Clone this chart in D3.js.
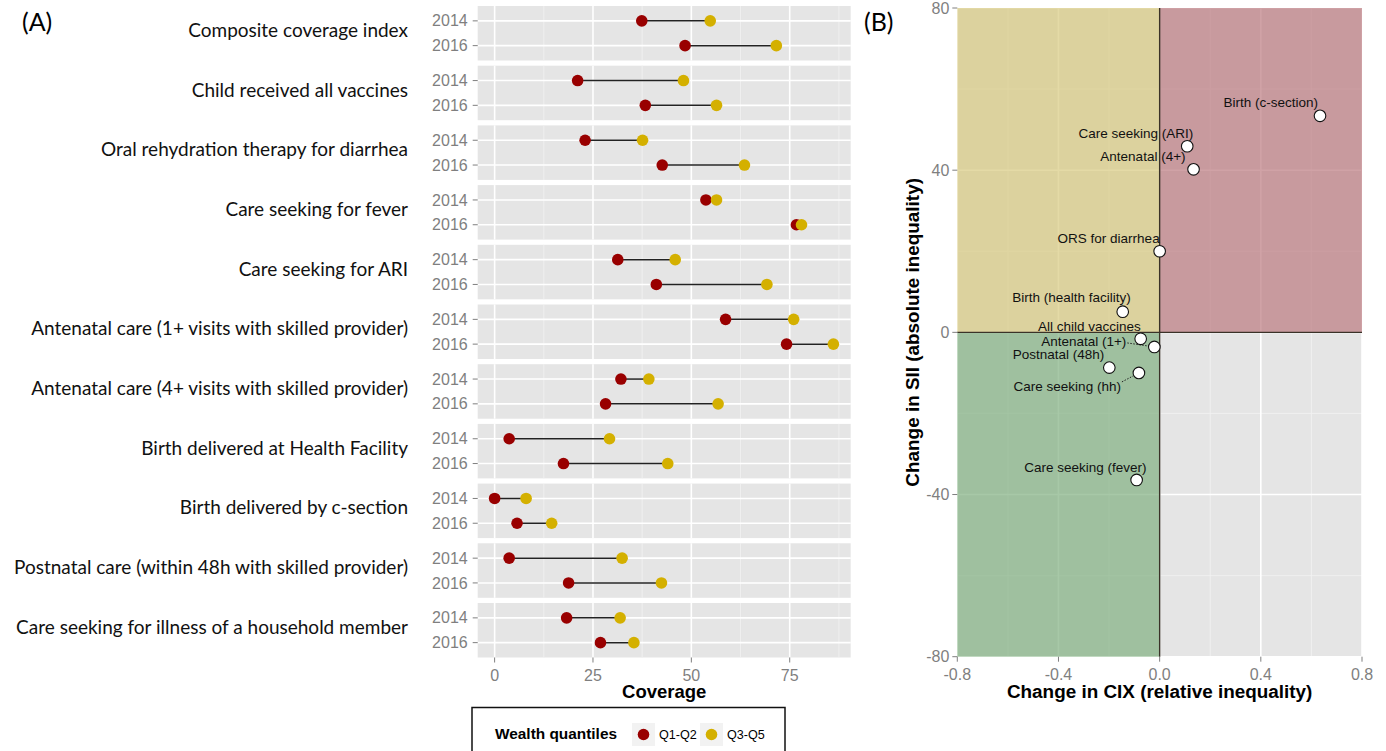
<!DOCTYPE html>
<html>
<head>
<meta charset="utf-8">
<script src="https://cdn.jsdelivr.net/npm/d3@7"></script>
<style>
  body { margin: 0; background: #fff; }
  svg { display: block; font-family: "Liberation Sans", Arial, sans-serif; }
  .cal { font-family: Lato, "Open Sans", sans-serif; }
</style>
</head>
<body>
<div id="chart"></div>
<script>
const width = 1386;
const height = 751;

// panel A data
const indicators = [
  "Composite coverage index",
  "Child received all vaccines",
  "Oral rehydration therapy for diarrhea",
  "Care seeking for fever",
  "Care seeking for ARI",
  "Antenatal care (1+ visits with skilled provider)",
  "Antenatal care (4+ visits with skilled provider)",
  "Birth delivered at Health Facility",
  "Birth delivered by c-section",
  "Postnatal care (within 48h with skilled provider)",
  "Care seeking for illness of a household member"
];
const years = ["2014", "2016"];
const q12_2014 = [37.4, 21.1, 23.0, 53.7, 31.3, 58.7, 32.1, 3.7, 0.0, 3.7, 18.3];
const q12_2016 = [48.4, 38.3, 42.6, 76.7, 41.1, 74.2, 28.2, 17.5, 5.7, 18.8, 26.9];
const q35_2014 = [54.8, 48.0, 37.6, 56.4, 45.9, 76.0, 39.2, 29.2, 8.0, 32.4, 31.9];
const q35_2016 = [71.6, 56.4, 63.5, 78.0, 69.2, 86.1, 56.8, 44.0, 14.5, 42.4, 35.4];
const coverageTicks = [0, 25, 50, 75];

// panel B data
const pointLabels = [
  "Birth (c-section)", "Care seeking (ARI)", "Antenatal (4+)", "ORS for diarrhea",
  "Birth (health facility)", "All child vaccines", "Antenatal (1+)", "Postnatal (48h)",
  "Care seeking (hh)", "Care seeking (fever)"
];
const cixChange = [0.634, 0.109, 0.134, 0.0, -0.146, -0.075, -0.021, -0.199, -0.082, -0.091];
const siiChange = [53.4, 45.9, 40.2, 20.0, 5.1, -1.6, -3.6, -8.7, -10.0, -36.4];
const cixTicks = [-0.8, -0.4, 0, 0.4, 0.8];
const siiTicks = [-80, -40, 0, 40, 80];

const colors = { q12: "#990000", q35: "#d4b000" };
const tickGrey = "#7f7f7f";

const svg = d3.select("#chart")
  .append("svg")
  .attr("width", width)
  .attr("height", height);

// ---------- Panel A ----------
const x = d3.scaleLinear().domain([-4.3, 90.5]).range([477.7, 850.7]);
const facet = d3.scaleBand().domain(indicators).range([6, 657.5]).paddingInner(0.087);
const yr = d3.scalePoint().domain(years).range([0, facet.bandwidth()]).padding(0.6);

const rows = indicators.map((name, i) => ({
  name,
  values: [
    { year: "2014", a: q12_2014[i], b: q35_2014[i] },
    { year: "2016", a: q12_2016[i], b: q35_2016[i] }
  ]
}));

const minorTicks = [12.5, 37.5, 62.5, 87.5];

const panels = svg.selectAll(".facet")
  .data(rows)
  .join("g")
  .attr("class", "facet")
  .attr("transform", d => `translate(0, ${facet(d.name)})`);

panels.append("rect")
  .attr("x", x.range()[0])
  .attr("width", x.range()[1] - x.range()[0])
  .attr("height", facet.bandwidth())
  .attr("fill", "#e5e5e5");

panels.selectAll(".minor")
  .data(minorTicks)
  .join("line")
  .attr("x1", d => x(d)).attr("x2", d => x(d))
  .attr("y1", 0).attr("y2", facet.bandwidth())
  .attr("stroke", "#f2f2f2").attr("stroke-width", 0.8);

panels.selectAll(".major")
  .data(coverageTicks)
  .join("line")
  .attr("x1", d => x(d)).attr("x2", d => x(d))
  .attr("y1", 0).attr("y2", facet.bandwidth())
  .attr("stroke", "#fff").attr("stroke-width", 1.6);

panels.selectAll(".hgrid")
  .data(years)
  .join("line")
  .attr("x1", x.range()[0]).attr("x2", x.range()[1])
  .attr("y1", d => yr(d)).attr("y2", d => yr(d))
  .attr("stroke", "#fff").attr("stroke-width", 1.6);

// year ticks
panels.selectAll(".ytick")
  .data(years)
  .join("line")
  .attr("x1", x.range()[0] - 5).attr("x2", x.range()[0])
  .attr("y1", d => yr(d)).attr("y2", d => yr(d))
  .attr("stroke", tickGrey);

panels.selectAll(".ylab")
  .data(years)
  .join("text")
  .attr("x", x.range()[0] - 10)
  .attr("y", d => yr(d))
  .attr("dy", "0.35em")
  .attr("text-anchor", "end")
  .attr("font-size", 16)
  .attr("fill", tickGrey)
  .text(d => d);

// facet labels
panels.append("text")
  .attr("class", "cal")
  .attr("x", 408)
  .attr("y", facet.bandwidth() / 2 - 3)
  .attr("dy", "0.35em")
  .attr("text-anchor", "end")
  .attr("font-size", 19)
  .attr("fill", "#111")
  .text(d => d.name);

// dumbbells
panels.selectAll(".seg")
  .data(d => d.values)
  .join("line")
  .attr("x1", d => x(d.a)).attr("x2", d => x(d.b))
  .attr("y1", d => yr(d.year)).attr("y2", d => yr(d.year))
  .attr("stroke", "#222").attr("stroke-width", 1.5);

panels.selectAll(".pa")
  .data(d => d.values)
  .join("circle")
  .attr("cx", d => x(d.a)).attr("cy", d => yr(d.year))
  .attr("r", 5.8).attr("fill", colors.q12);

panels.selectAll(".pb")
  .data(d => d.values)
  .join("circle")
  .attr("cx", d => x(d.b)).attr("cy", d => yr(d.year))
  .attr("r", 5.8).attr("fill", colors.q35);

// x axis A
const axisA = svg.append("g").attr("transform", `translate(0, ${facet.range()[1]})`);
axisA.selectAll("line")
  .data(coverageTicks)
  .join("line")
  .attr("x1", d => x(d)).attr("x2", d => x(d))
  .attr("y1", 0).attr("y2", 5)
  .attr("stroke", tickGrey);
axisA.selectAll("text")
  .data(coverageTicks)
  .join("text")
  .attr("x", d => x(d))
  .attr("y", 18)
  .attr("dy", "0.35em")
  .attr("text-anchor", "middle")
  .attr("font-size", 16)
  .attr("fill", tickGrey)
  .text(d => d);

svg.append("text")
  .attr("x", (x.range()[0] + x.range()[1]) / 2)
  .attr("y", 692)
  .attr("dy", "0.35em")
  .attr("text-anchor", "middle")
  .attr("font-size", 18.5)
  .attr("font-weight", "bold")
  .text("Coverage");

// legend
const legend = svg.append("g");
legend.append("rect")
  .attr("x", 472).attr("y", 707.5)
  .attr("width", 313).attr("height", 60)
  .attr("fill", "#fff").attr("stroke", "#111").attr("stroke-width", 1.5);
legend.append("text")
  .attr("x", 495).attr("y", 734)
  .attr("dy", "0.35em")
  .attr("font-size", 15.4)
  .attr("font-weight", "bold")
  .text("Wealth quantiles");

const legendKeys = [
  { key: "q12", label: "Q1-Q2", x0: 632 },
  { key: "q35", label: "Q3-Q5", x0: 700 }
];
const lk = legend.selectAll(".lk")
  .data(legendKeys)
  .join("g")
  .attr("transform", d => `translate(${d.x0}, 723)`);
lk.append("rect")
  .attr("width", 23).attr("height", 23)
  .attr("fill", "#f2f2f2");
lk.append("circle")
  .attr("cx", 11.5).attr("cy", 11.5).attr("r", 5.8)
  .attr("fill", d => colors[d.key]);
lk.append("text")
  .attr("x", 27).attr("y", 12)
  .attr("dy", "0.35em")
  .attr("font-size", 12.6)
  .text(d => d.label);

// ---------- Panel B ----------
const bx = d3.scaleLinear().domain([-0.8, 0.8]).range([957.3, 1362]);
const by = d3.scaleLinear().domain([-80, 80]).range([656.7, 8]);

const gB = svg.append("g");
gB.append("rect")
  .attr("x", bx(-0.8)).attr("y", by(80))
  .attr("width", bx(0.8) - bx(-0.8)).attr("height", by(-80) - by(80))
  .attr("fill", "#e5e5e5");

const bxMinor = [-0.6, -0.2, 0.2, 0.6];
const byMinor = [-60, -20, 20, 60];
gB.selectAll(".bxm").data(bxMinor).join("line")
  .attr("x1", d => bx(d)).attr("x2", d => bx(d))
  .attr("y1", by(80)).attr("y2", by(-80))
  .attr("stroke", "#f2f2f2").attr("stroke-width", 0.8);
gB.selectAll(".bym").data(byMinor).join("line")
  .attr("x1", bx(-0.8)).attr("x2", bx(0.8))
  .attr("y1", d => by(d)).attr("y2", d => by(d))
  .attr("stroke", "#f2f2f2").attr("stroke-width", 0.8);
gB.selectAll(".bxM").data(cixTicks).join("line")
  .attr("x1", d => bx(d)).attr("x2", d => bx(d))
  .attr("y1", by(80)).attr("y2", by(-80))
  .attr("stroke", "#fff").attr("stroke-width", 1.6);
gB.selectAll(".byM").data(siiTicks).join("line")
  .attr("x1", bx(-0.8)).attr("x2", bx(0.8))
  .attr("y1", d => by(d)).attr("y2", d => by(d))
  .attr("stroke", "#fff").attr("stroke-width", 1.6);

// quadrants
const quadrants = [
  { x0: -0.8, x1: 0, y0: 0, y1: 80, fill: "#d8ca80" },
  { x0: 0, x1: 0.8, y0: 0, y1: 80, fill: "#bc7b80" },
  { x0: -0.8, x1: 0, y0: -80, y1: 0, fill: "#82b082" }
];
gB.selectAll(".quad").data(quadrants).join("rect")
  .attr("x", d => bx(d.x0)).attr("y", d => by(d.y1))
  .attr("width", d => bx(d.x1) - bx(d.x0))
  .attr("height", d => by(d.y0) - by(d.y1))
  .attr("fill", d => d.fill)
  .attr("opacity", 0.7);

gB.append("line")
  .attr("x1", bx(0)).attr("x2", bx(0))
  .attr("y1", by(80)).attr("y2", by(-80))
  .attr("stroke", "#3a3228").attr("stroke-width", 1.4);
gB.append("line")
  .attr("x1", bx(-0.8)).attr("x2", bx(0.8))
  .attr("y1", by(0)).attr("y2", by(0))
  .attr("stroke", "#3a3228").attr("stroke-width", 1.4);

// axes B
gB.selectAll(".bxt").data(cixTicks).join("line")
  .attr("x1", d => bx(d)).attr("x2", d => bx(d))
  .attr("y1", by(-80)).attr("y2", by(-80) + 5)
  .attr("stroke", tickGrey);
gB.selectAll(".bxl").data(cixTicks).join("text")
  .attr("x", d => bx(d)).attr("y", by(-80) + 18)
  .attr("dy", "0.35em")
  .attr("text-anchor", "middle")
  .attr("font-size", 16)
  .attr("fill", tickGrey)
  .text(d => d.toFixed(1));
gB.selectAll(".byt").data(siiTicks).join("line")
  .attr("x1", bx(-0.8) - 5).attr("x2", bx(-0.8))
  .attr("y1", d => by(d)).attr("y2", d => by(d))
  .attr("stroke", tickGrey);
gB.selectAll(".byl").data(siiTicks).join("text")
  .attr("x", bx(-0.8) - 8).attr("y", d => by(d))
  .attr("dy", "0.35em")
  .attr("text-anchor", "end")
  .attr("font-size", 16)
  .attr("fill", tickGrey)
  .text(d => d);

svg.append("text")
  .attr("x", (bx.range()[0] + bx.range()[1]) / 2)
  .attr("y", 691)
  .attr("dy", "0.35em")
  .attr("text-anchor", "middle")
  .attr("font-size", 18.9)
  .attr("font-weight", "bold")
  .text("Change in CIX (relative inequality)");

svg.append("text")
  .attr("transform", `translate(912, ${(by.range()[0] + by.range()[1]) / 2}) rotate(-90)`)
  .attr("dy", "0.35em")
  .attr("text-anchor", "middle")
  .attr("font-size", 18.9)
  .attr("font-weight", "bold")
  .text("Change in SII (absolute inequality)");

// label placement (pixel offsets from point, repel-style)
const labelOffsets = [
  [-2, -14], [6, -13], [-8, -13], [0, -13], [8, -14],
  [0, -13], [-28, -6], [-5, -13], [-18, 13], [10, -13]
];
const leaders = [false, false, false, false, false, false, true, false, true, false];

const pts = pointLabels.map((label, i) => ({
  label,
  cx: bx(cixChange[i]),
  cy: by(siiChange[i]),
  dx: labelOffsets[i][0],
  dy: labelOffsets[i][1],
  leader: leaders[i]
}));

gB.selectAll(".leader").data(pts.filter(d => d.leader)).join("line")
  .attr("x1", d => d.cx + d.dx + 1).attr("y1", d => d.cy + d.dy + (d.dy > 0 ? -4 : 2))
  .attr("x2", d => d.cx).attr("y2", d => d.cy)
  .attr("stroke", "#222").attr("stroke-width", 1)
  .attr("stroke-dasharray", "1.5,1.5");

gB.selectAll(".lbl").data(pts).join("text")
  .attr("x", d => d.cx + d.dx)
  .attr("y", d => d.cy + d.dy)
  .attr("dy", "0.35em")
  .attr("text-anchor", "end")
  .attr("font-size", 13.5)
  .attr("fill", "#111")
  .text(d => d.label);

gB.selectAll(".pt").data(pts).join("circle")
  .attr("cx", d => d.cx).attr("cy", d => d.cy)
  .attr("r", 5.8)
  .attr("fill", "#fff")
  .attr("stroke", "#111")
  .attr("stroke-width", 1.1);

// panel letters
svg.append("text").attr("class", "cal").attr("x", 22).attr("y", 22).attr("dy", "0.35em")
  .attr("font-size", 25).text("(A)");
svg.append("text").attr("class", "cal").attr("x", 864).attr("y", 22).attr("dy", "0.35em")
  .attr("font-size", 25).text("(B)");
</script>
</body>
</html>
